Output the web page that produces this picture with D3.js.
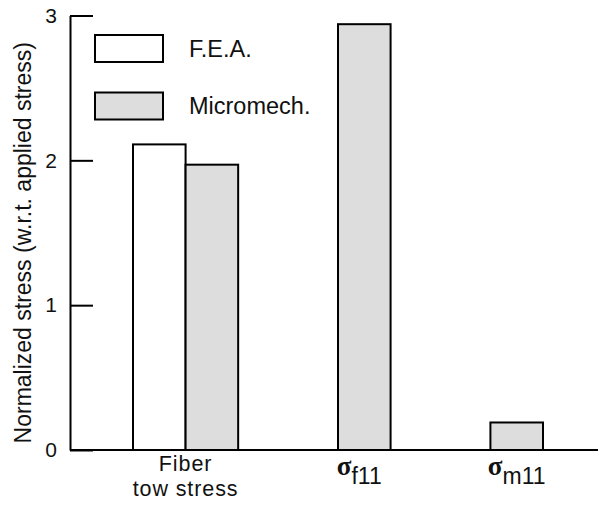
<!DOCTYPE html>
<html>
<head>
<meta charset="utf-8">
<script src="https://cdn.jsdelivr.net/npm/d3@7"></script>
<style>
  html, body { margin: 0; padding: 0; background: #fff; }
  svg { display: block; }
  text { font-family: "Liberation Sans", Arial, Helvetica, sans-serif; fill: #111; }
</style>
</head>
<body>
<svg id="chart" width="598" height="517"></svg>
<script>
// ---- data ----
const categories = ["Fiber tow stress", "σf11", "σm11"];
const series = ["F.E.A.", "Micromech."];
const feaValues = [2.11, null, null];
const micromechValues = [1.97, 2.94, 0.19];
const yTicks = [0, 1, 2, 3];
const yTitle = "Normalized stress (w.r.t. applied stress)";

const seriesColors = ["#ffffff", "#dddddd"];

const svg = d3.select("#chart");

const y = d3.scaleLinear().domain([0, 3]).range([450, 15.5]);
const x = d3.scaleBand().domain(categories).range([133, 543]).paddingInner(0.31).paddingOuter(0);
const xSub = d3.scaleBand().domain(series).range([0, x.bandwidth()]);

const rows = categories.map((c, i) => ({
  cat: c,
  vals: [
    { s: series[0], v: feaValues[i] },
    { s: series[1], v: micromechValues[i] }
  ]
}));

// bars
const g = svg.append("g");
rows.forEach((r) => {
  r.vals.forEach((d, j) => {
    if (d.v == null) return;
    g.append("rect")
      .attr("x", x(r.cat) + xSub(d.s))
      .attr("y", y(d.v))
      .attr("width", xSub.bandwidth())
      .attr("height", y(0) - y(d.v))
      .attr("fill", seriesColors[j])
      .attr("stroke", "#000")
      .attr("stroke-width", 2);
  });
});

// y axis
const yAxis = d3.axisLeft(y).tickValues(yTicks).tickFormat(d3.format("d"))
  .tickSizeInner(-23).tickSizeOuter(0).tickPadding(13);
const ya = svg.append("g").attr("transform", "translate(70,0)").call(yAxis);
ya.select(".domain").attr("stroke", "#000").attr("stroke-width", 2);
ya.selectAll(".tick line").attr("stroke", "#000").attr("stroke-width", 2);
ya.selectAll(".tick text").attr("font-size", 21).attr("fill", "#111")
  .attr("font-family", "Liberation Sans, Arial, sans-serif");

// x axis baseline
svg.append("line")
  .attr("x1", 70).attr("x2", 598)
  .attr("y1", y(0)).attr("y2", y(0))
  .attr("stroke", "#000").attr("stroke-width", 2);

// y title
svg.append("text")
  .attr("transform", `translate(31,${(y(0) + y(3)) / 2 + 10}) rotate(-90)`)
  .attr("text-anchor", "middle")
  .attr("font-size", 23)
  .text(yTitle);

// x labels
const c0 = x(categories[0]) + x.bandwidth() / 2;
svg.append("text")
  .attr("x", c0).attr("y", 471)
  .attr("text-anchor", "middle")
  .attr("font-size", 21.5).attr("letter-spacing", 0.9)
  .text("Fiber");
svg.append("text")
  .attr("x", c0).attr("y", 496)
  .attr("text-anchor", "middle")
  .attr("font-size", 21.5).attr("letter-spacing", 0.9)
  .text("tow stress");

[1, 2].forEach((i) => {
  const cx = x(categories[i]) + xSub(series[1]) + xSub.bandwidth() / 2 - (i === 1 ? 5 : 0);
  const t = svg.append("text")
    .attr("x", cx).attr("y", 475)
    .attr("text-anchor", "middle");
  t.append("tspan")
    .attr("font-family", "Liberation Serif, Times New Roman, serif")
    .attr("font-weight", "bold").attr("font-size", 27)
    .text(categories[i].charAt(0));
  t.append("tspan")
    .attr("font-size", 23).attr("dy", 9)
    .text(categories[i].slice(1));
});

// legend
const legend = svg.append("g");
series.forEach((s, i) => {
  const ly = 35 + i * 57.5;
  legend.append("rect")
    .attr("x", 95).attr("y", ly).attr("width", 68).attr("height", 27)
    .attr("fill", seriesColors[i]).attr("stroke", "#000").attr("stroke-width", 2);
  legend.append("text")
    .attr("x", 189).attr("y", ly + 13.5).attr("dy", "0.36em")
    .attr("font-size", 23.5)
    .text(s);
});
</script>
</body>
</html>
